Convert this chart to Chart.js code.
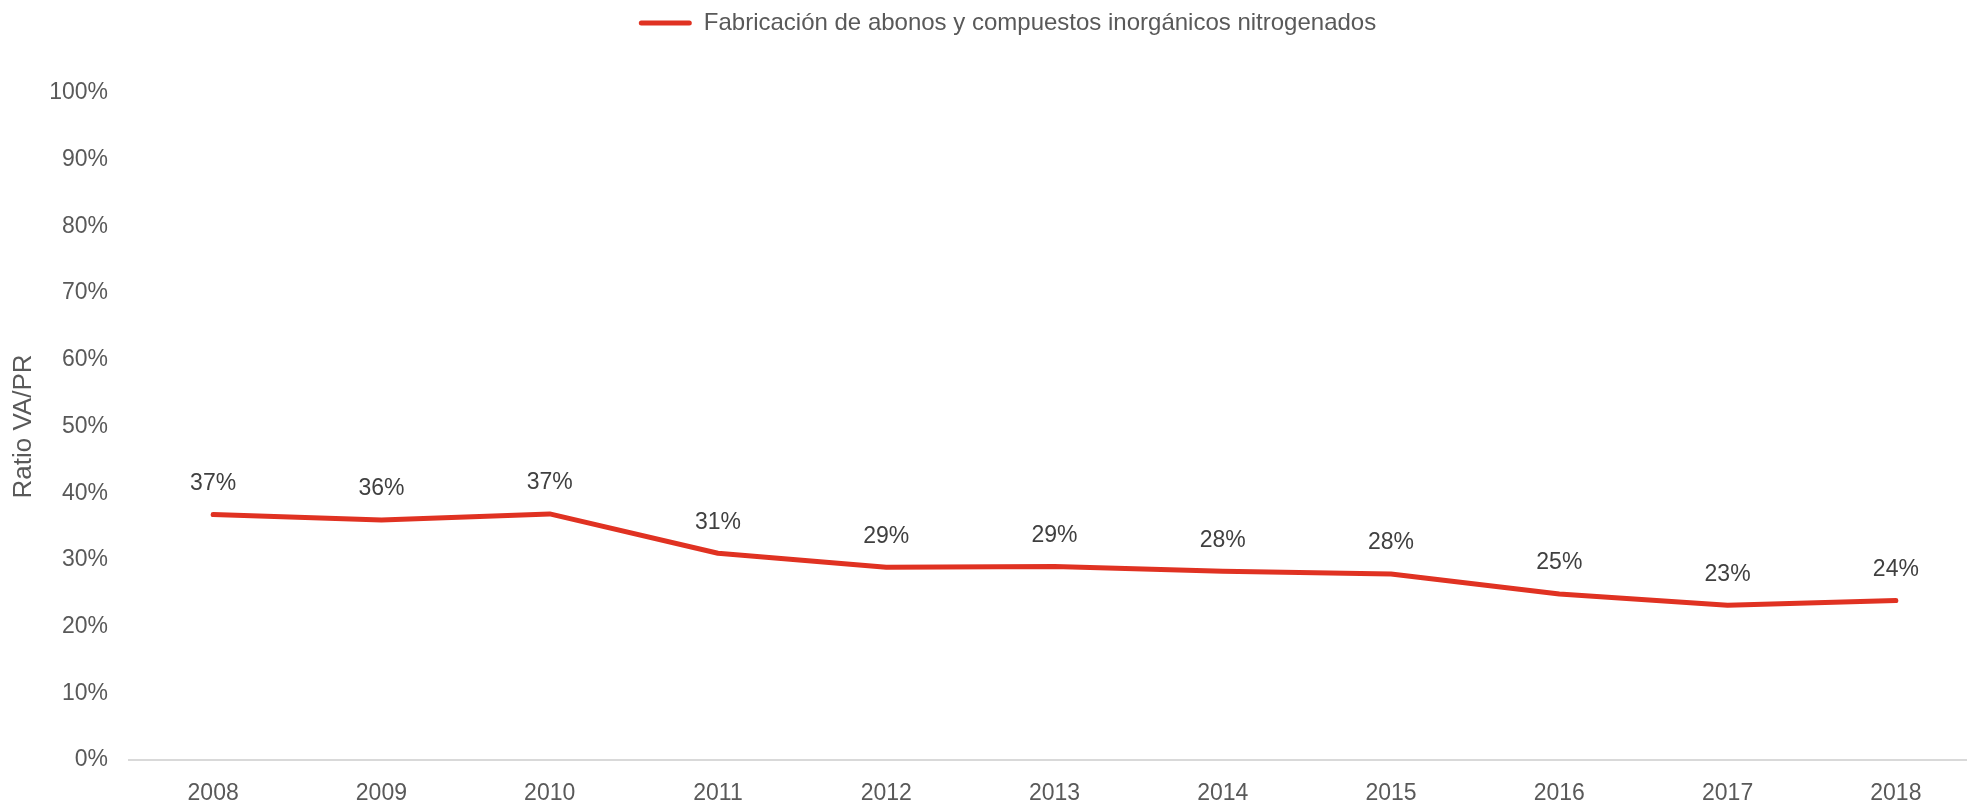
<!DOCTYPE html>
<html>
<head>
<meta charset="utf-8">
<script src="https://cdn.jsdelivr.net/npm/chart.js@4/dist/chart.umd.min.js"></script>
<style>
  html, body { margin: 0; padding: 0; background: #fff; }
  #wrap { width: 1967px; height: 802px; }
</style>
</head>
<body>
<div id="wrap"><canvas id="chart"></canvas></div>
<script>
// data
const years = ['2008', '2009', '2010', '2011', '2012', '2013', '2014', '2015', '2016', '2017', '2018'];
const ratio = [0.368, 0.360, 0.369, 0.310, 0.289, 0.290, 0.283, 0.279, 0.249, 0.232, 0.239];
const seriesName = 'Fabricación de abonos y compuestos inorgánicos nitrogenados';
const lineColor = '#E03222';
const textColor = '#595959';

Chart.defaults.font.family = '"Liberation Sans", Arial, sans-serif';
Chart.defaults.color = textColor;

// value labels above each point
const pointLabels = {
    id: 'pointLabels',
    afterDatasetsDraw(chart) {
        const ctx = chart.ctx;
        const meta = chart.getDatasetMeta(0);
        ctx.save();
        ctx.font = '23px "Liberation Sans", Arial, sans-serif';
        ctx.fillStyle = '#404040';
        ctx.textAlign = 'center';
        ctx.textBaseline = 'middle';
        meta.data.forEach((pt, i) => {
            const v = chart.data.datasets[0].data[i];
            ctx.fillText(Math.round(v * 100) + '%', pt.x, pt.y - 31);
        });
        ctx.restore();
    }
};

// more room under the legend, and nudge it right like the original
const legendTweak = {
    id: 'legendTweak',
    beforeInit(chart) {
        const fit = chart.legend.fit;
        chart.legend.fit = function () {
            fit.bind(chart.legend)();
            this.height += 48;
        };
    },
    beforeDraw(chart) {
        chart.legend.left += 24;
        chart.legend.right += 24;
    },
    afterDraw(chart) {
        chart.legend.left -= 24;
        chart.legend.right -= 24;
    }
};

// the original's category axis runs a little past the right edge
const widenX = {
    id: 'widenX',
    afterLayout(chart) {
        const x = chart.scales.x;
        x.right = x.left + 1851;
        x.width = x.right - x.left;
        x.configure();
    }
};

new Chart(document.getElementById('chart'), {
    type: 'line',
    data: {
        labels: years,
        datasets: [{
            label: seriesName,
            data: ratio,
            borderColor: lineColor,
            backgroundColor: lineColor,
            borderWidth: 5,
            pointRadius: 0,
            borderCapStyle: 'round',
            borderJoinStyle: 'round',
            tension: 0
        }]
    },
    options: {
        responsive: true,
        maintainAspectRatio: false,
        animation: false,
        layout: { padding: { top: 11, right: 0, left: 0, bottom: 0 } },
        plugins: {
            tooltip: { enabled: false },
            legend: {
                position: 'top',
                labels: {
                    boxWidth: 53,
                    boxHeight: 5,
                    padding: 0,
                    useBorderRadius: true,
                    font: { size: 24 },
                    color: textColor,
                    generateLabels: () => [{
                        text: seriesName,
                        fillStyle: lineColor,
                        strokeStyle: lineColor,
                        fontColor: textColor,
                        lineWidth: 0,
                        borderRadius: 2.5,
                        datasetIndex: 0
                    }]
                }
            }
        },
        scales: {
            x: {
                offset: true,
                grid: { display: false },
                border: { display: true, color: '#d9d9d9', width: 2 },
                ticks: { font: { size: 23 }, color: textColor, padding: 12 },
                afterFit: (s) => { s.height = 42; }
            },
            y: {
                min: 0,
                max: 1,
                grid: { display: false },
                border: { display: false },
                ticks: {
                    stepSize: 0.1,
                    font: { size: 23 },
                    color: textColor,
                    padding: 13,
                    callback: (v) => Math.round(v * 100) + '%'
                },
                title: {
                    display: true,
                    text: 'Ratio VA/PR',
                    font: { size: 26 },
                    color: textColor,
                    padding: { top: 8, bottom: 0 }
                },
                afterFit: (s) => { s.width = 129; }
            }
        }
    },
    plugins: [pointLabels, legendTweak, widenX]
});
</script>
</body>
</html>
